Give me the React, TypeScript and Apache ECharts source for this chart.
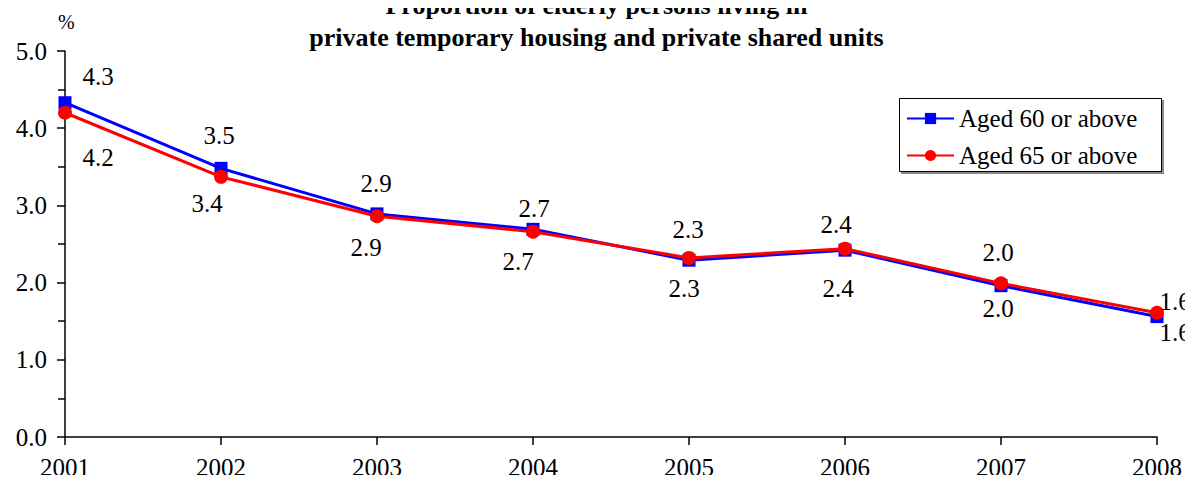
import React, { useEffect, useRef } from "react";
import * as echarts from "echarts";

const years = ["2001", "2002", "2003", "2004", "2005", "2006", "2007", "2008"];
const aged60 = [4.33, 3.48, 2.89, 2.69, 2.29, 2.42, 1.96, 1.56];
const aged65 = [4.2, 3.37, 2.86, 2.66, 2.32, 2.44, 1.99, 1.61];
const yTicks = [0, 1, 2, 3, 4, 5];

// label offsets (styling only)
const off60: [number, number][] = [
  [33, -26], [-2, -33], [-1, -30], [1, -21], [-5, 28], [-7, 38], [-3, 23], [18, 16],
];
const off65: [number, number][] = [
  [33, 45], [-14, 27], [-11, 31], [-15, 30], [-1, -28], [-9, -24], [-3, -31], [18, -11],
];

const FONT = "Liberation Serif";

export default function App() {
  const ref = useRef<HTMLDivElement>(null);
  useEffect(() => {
    if (!ref.current) return;
    const chart = echarts.init(ref.current, null, { renderer: "svg" });
    const mk = (vals: number[], offs: [number, number][]) =>
      vals.map((v, i) => ({ value: v, label: { offset: offs[i] } }));
    const labelBase = {
      show: true,
      position: "inside",
      align: "center",
      verticalAlign: "middle",
      color: "#000",
      fontFamily: FONT,
      fontSize: 25,
      formatter: (p: any) => Number(p.value).toFixed(1),
    };
    chart.setOption({
      animation: false,
      textStyle: { fontFamily: FONT },
      title: {
        text: "Proportion of elderly persons living in\nprivate temporary housing and private shared units",
        left: "center",
        top: -16,
        textStyle: {
          fontFamily: FONT,
          fontWeight: "bold",
          fontSize: 26,
          lineHeight: 32,
          color: "#000",
        },
      },
      graphic: [
        {
          type: "text",
          left: 58,
          top: 12,
          style: { text: "%", fontFamily: FONT, fontSize: 20, fill: "#000" },
        },
        {
          type: "rect",
          left: 901,
          top: 100,
          shape: { width: 263, height: 74 },
          style: { fill: "#888", stroke: "none" },
          z: 0,
        },
        {
          type: "rect",
          left: 899,
          top: 98,
          shape: { width: 262, height: 73 },
          style: { fill: "#fff", stroke: "#000", lineWidth: 1 },
          z: 1,
        },
      ],
      legend: {
        orient: "vertical",
        left: 906,
        top: 106,
        padding: 0,
        itemWidth: 47,
        itemHeight: 14,
        itemGap: 12,
        z: 10,
        textStyle: { fontFamily: FONT, fontSize: 25, lineHeight: 25, color: "#000" },
        data: ["Aged 60 or above", "Aged 65 or above"],
      },
      grid: { left: 65, right: 36, top: 51, bottom: 46, containLabel: false },
      xAxis: {
        type: "category",
        data: years,
        boundaryGap: false,
        axisLine: { lineStyle: { color: "#000", width: 1.5 } },
        axisTick: { show: true, inside: false, length: 8, lineStyle: { color: "#000", width: 1.5 } },
        axisLabel: { color: "#000", fontFamily: FONT, fontSize: 25, margin: 18 },
        splitLine: { show: false },
      },
      yAxis: {
        type: "value",
        min: yTicks[0],
        max: yTicks[yTicks.length - 1],
        interval: 1,
        axisLine: { show: true, lineStyle: { color: "#000", width: 1.5 } },
        axisTick: { show: true, length: 8, lineStyle: { color: "#000", width: 1.5 } },
        minorTick: { show: true, splitNumber: 2, length: 7, lineStyle: { color: "#000", width: 1.5 } },
        axisLabel: {
          color: "#000",
          fontFamily: FONT,
          fontSize: 25,
          margin: 18,
          formatter: (v: number) => v.toFixed(1),
        },
        splitLine: { show: false },
      },
      series: [
        {
          name: "Aged 60 or above",
          type: "line",
          data: mk(aged60, off60),
          symbol: "rect",
          symbolSize: 13,
          lineStyle: { color: "#0000ff", width: 3 },
          itemStyle: { color: "#0000ff" },
          label: labelBase,
          z: 3,
        },
        {
          name: "Aged 65 or above",
          type: "line",
          data: mk(aged65, off65),
          symbol: "circle",
          symbolSize: 14,
          lineStyle: { color: "#ff0000", width: 3 },
          itemStyle: { color: "#ff0000" },
          label: labelBase,
          z: 4,
        },
      ],
    });
    return () => chart.dispose();
  }, []);
  return <div ref={ref} style={{ width: 1193, height: 483, margin: -8 }} />;
}
